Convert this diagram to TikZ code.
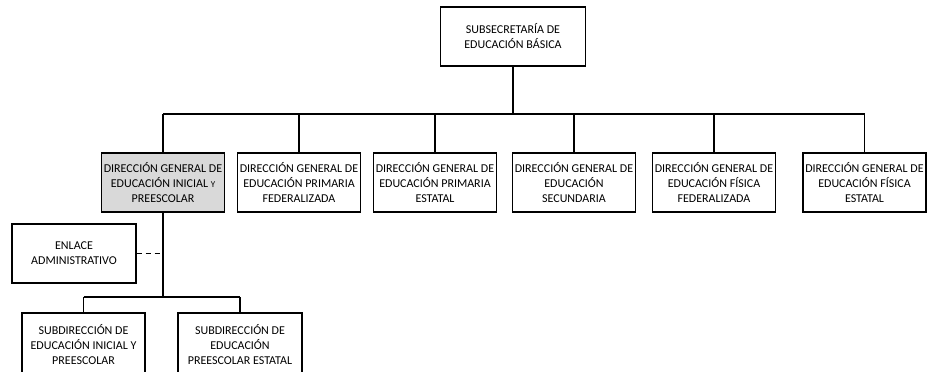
\documentclass[tikz,border=0pt]{standalone}
\usepackage{fontspec}
\setmainfont{Carlito}
\definecolor{boxgray}{HTML}{D9D9D9}
\begin{document}
\begin{tikzpicture}[x=1pt,y=-1pt,line width=1.3pt,
  box/.style={draw,align=center,inner sep=0pt,minimum width=123pt,minimum height=59pt,
    font=\fontsize{12}{15}\selectfont}]
\clip (0,0) rectangle (932,372);

\node [box,minimum width=145pt] (subsec) at (513,36.5) {SUBSECRETARÍA DE\\EDUCACIÓN BÁSICA};

\node [box,fill=boxgray] (dgInicial) at (163,182.5) {DIRECCIÓN GENERAL DE\\EDUCACIÓN INICIAL {\fontsize{9}{15}\selectfont Y}\\PREESCOLAR};
\node [box] (dgPrimFed) at (299,182.5) {DIRECCIÓN GENERAL DE\\EDUCACIÓN PRIMARIA\\FEDERALIZADA};
\node [box] (dgPrimEst) at (435,182.5) {DIRECCIÓN GENERAL DE\\EDUCACIÓN PRIMARIA\\ESTATAL};
\node [box] (dgSec) at (574,182.5) {DIRECCIÓN GENERAL DE\\EDUCACIÓN\\SECUNDARIA};
\node [box] (dgFisFed) at (714,182.5) {DIRECCIÓN GENERAL DE\\EDUCACIÓN FÍSICA\\FEDERALIZADA};
\node [box] (dgFisEst) at (864.5,182.5) {DIRECCIÓN GENERAL DE\\EDUCACIÓN FÍSICA\\ESTATAL};

\node [box,minimum width=124pt] (enlace) at (74,253.5) {ENLACE\\ADMINISTRATIVO};

\node [box] (subInicial) at (83.5,344.5) [minimum height=63pt] {SUBDIRECCIÓN DE\\EDUCACIÓN INICIAL Y\\PREESCOLAR};
\node [box,minimum width=124pt,minimum height=63pt] (subPreEst) at (240,344.5) {SUBDIRECCIÓN DE\\EDUCACIÓN\\PREESCOLAR ESTATAL};

% lineas
\coordinate (busL) at (163,114);
\coordinate (busR) at (864.5,114);
\draw (busL) -- (busR);
\draw (subsec.south) -- (subsec.south |- busL);
\foreach \n in {dgInicial,dgPrimFed,dgPrimEst,dgSec,dgFisFed,dgFisEst}
  \draw (\n.north) -- (\n.north |- busL);

\coordinate (lowL) at (83.5,297);
\coordinate (lowR) at (240,297);
\draw (dgInicial.south) -- (dgInicial.south |- lowL);
\draw (lowL) -- (lowR);
\draw (subInicial.north) -- (lowL);
\draw (subPreEst.north) -- (lowR);

\draw [dash pattern=on 5pt off 4pt] (enlace.east) -- (enlace.east -| dgInicial.south);

\end{tikzpicture}
\end{document}
